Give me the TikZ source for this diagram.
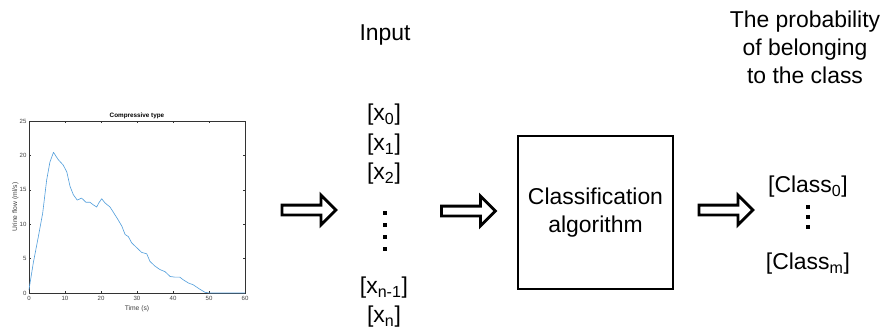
\documentclass[tikz,border=0pt]{standalone}
\usepackage{fontspec}
\setmainfont{Liberation Sans}
\usetikzlibrary{shapes.arrows}

\definecolor{flowblue}{RGB}{85,160,220}

\begin{document}
\begin{tikzpicture}[x=0.025cm, y=-0.025cm,
    txt/.style={font=\fontsize{16.3}{19.6}\selectfont, inner sep=0pt},
    ticklbl/.style={font=\fontsize{4.3}{5}\selectfont, text=black!75, inner sep=0.6pt},
    fat/.style={single arrow, draw=black, fill=white, line width=2pt,
        minimum height=1.35cm, inner xsep=0pt, inner ysep=0.0875cm,
        single arrow head extend=0.25cm}]
    \useasboundingbox (0,0) rectangle (883,330);

    % Flow curve
    \begin{scope}[shift={(29,293)}, xscale=3.6, yscale=-6.88]
        \draw[black!80, line width=0.3pt] (0,0) rectangle (60,25);
        \foreach \t in {0,10,...,60} {
            \draw[black!80, line width=0.3pt] (\t,0) -- ++(0,0.3) (\t,25) -- ++(0,-0.3);
            \node[ticklbl, anchor=north] at (\t,-0.35) {\t};
        }
        \foreach \v in {0,5,...,25} {
            \draw[black!80, line width=0.3pt] (0,\v) -- ++(0.55,0) (60,\v) -- ++(-0.55,0);
            \node[ticklbl, anchor=east] at (-0.4,\v) {\v};
        }
        \node[ticklbl, font=\fontsize{4.5}{5}\selectfont\bfseries, text=black, anchor=south] (ttl) at (30,25.1) {Compressive type};
        \node[ticklbl, font=\fontsize{4.8}{5}\selectfont, anchor=north] (xlbl) at (30,-1.6) {Time (s)};
        \node[ticklbl, font=\fontsize{4.8}{5}\selectfont, rotate=90, anchor=south] (ylbl) at (-2.6,12.5) {Urine flow (ml/s)};
        \draw[flowblue, line width=0.45pt, line join=round] plot coordinates {
            (0,0.5) (1.2,4.4) (2.6,8.2) (3.8,11.6) (4.9,16.4) (5.8,19) (6.8,20.45)
            (8.1,19.4) (9.5,18.6) (10.5,17.6) (11.4,15.5) (12.3,14.3) (13.4,13.5)
            (14.6,13.8) (15.8,13.2) (16.9,13.2) (17.9,12.8) (18.8,12.5) (19.4,13.1)
            (20.2,13.7) (21.1,13.1) (22.5,12.5) (23.6,11.6) (24.8,10.6) (25.8,9.7)
            (26.7,8.5) (27.6,8.2) (28.5,7.3) (29.9,6.6) (31.3,5.9) (32.7,5.7)
            (33.6,4.6) (35,3.9) (36.4,3.4) (37.8,3.1) (39.2,2.4) (40.6,2.3)
            (41.9,2.3) (42.9,1.9) (44.3,1.45) (45.6,1.2) (47.3,0.6) (48.9,0.1)
            (50.1,0) (60,0)};
    \end{scope}

    % Input vector
    \node[txt, anchor=base] (inp) at (385,40) {Input};
    \node[txt] (x0) at (384,115) {[x\textsubscript{0}]};
    \node[txt] (x1) at (384,145) {[x\textsubscript{1}]};
    \node[txt] (x2) at (384,174) {[x\textsubscript{2}]};
    \foreach \y in {213,225,237,249}
        \fill (383.2,\y-1.8) rectangle ++(3.6,3.6);
    \node[txt] (xn1) at (384,288) {[x\textsubscript{n-1}]};
    \node[txt] (xn) at (384,317) {[x\textsubscript{n}]};

    % Classifier
    \node[draw, line width=1.2pt, minimum width=3.875cm, minimum height=3.825cm,
        txt, align=center] (algo) at (595.5,212.5) {Classification\\algorithm};

    % Output
    \node[txt, align=center, anchor=north] (prob) at (805,11) {The probability\\of belonging\\to the class};
    \node[txt] (c0) at (808,187) {[Class\textsubscript{0}]};
    \foreach \y in {207,217,227}
        \fill (806.2,\y-1.8) rectangle ++(3.6,3.6);
    \node[txt] (cm) at (808,264) {[Class\textsubscript{m}]};

    % Block arrows
    \node[fat] (a1) at (306.5,210) {};
    \node[fat] (a2) at (466,211) {};
    \node[fat] (a3) at (723.5,210) {};
\end{tikzpicture}
\end{document}
